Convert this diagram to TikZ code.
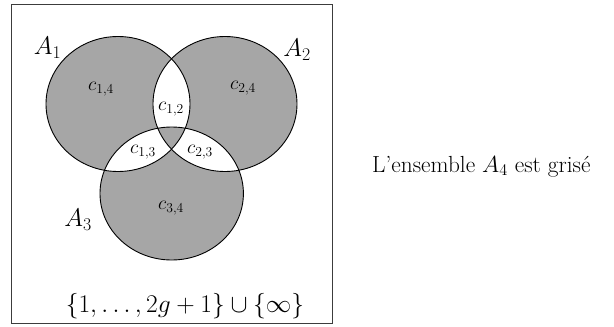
\RequirePackage{fix-cm}
\documentclass[tikz,border=0pt]{standalone}
\usepackage{fontspec}
\definecolor{regiongray}{RGB}{166,166,166}
\definecolor{framegray}{RGB}{60,60,60}
\tikzset{
  biglabel/.style={inner sep=0pt, font=\fontsize{25.5}{30}\selectfont},
  captionlabel/.style={inner sep=0pt, font=\fontsize{23.3}{28}\selectfont},
  smalllabel/.style={inner sep=0pt, font=\fontsize{19.5}{23}\selectfont},
  setline/.style={draw=black, line width=0.9pt},
}
\begin{document}
\begin{tikzpicture}[x=1pt,y=-1pt]
\useasboundingbox (0,0) rectangle (614,327);
\draw[framegray, line width=1pt] (11.5,4) rectangle (332.5,323.5);
\fill[regiongray, even odd rule]
  (118,104) ellipse [x radius=72, y radius=67.5]
  (225,104) ellipse [x radius=72, y radius=67.5]
  (171.7,193.5) ellipse [x radius=71.7, y radius=66.5];
\draw[setline] (118,104) ellipse [x radius=72, y radius=67.5];
\draw[setline] (225,104) ellipse [x radius=72, y radius=67.5];
\draw[setline] (171.7,193.5) ellipse [x radius=71.7, y radius=66.5];
\node[biglabel] (a1) at (47.5,48) {$A_1$};
\node[biglabel] (a2) at (297,50) {$A_2$};
\node[biglabel] (a3) at (78,220) {$A_3$};
\node[smalllabel] (c14) at (101,89) {$c_{1,4}$};
\node[smalllabel] (c24) at (243,88) {$c_{2,4}$};
\node[smalllabel] (c12) at (171,109) {$c_{1,2}$};
\node[smalllabel] (c13) at (143,152) {$c_{1,3}$};
\node[smalllabel] (c23) at (200,152) {$c_{2,3}$};
\node[smalllabel] (c34) at (171,208) {$c_{3,4}$};
\node[biglabel, anchor=base] (univ) at (185,312) {$\{1,\ldots,2g+1\}\cup\{\infty\}$};
\node[captionlabel, anchor=base west] (caption) at (372,172) {L’ensemble $A_4$ est grisé};
\end{tikzpicture}
\end{document}
